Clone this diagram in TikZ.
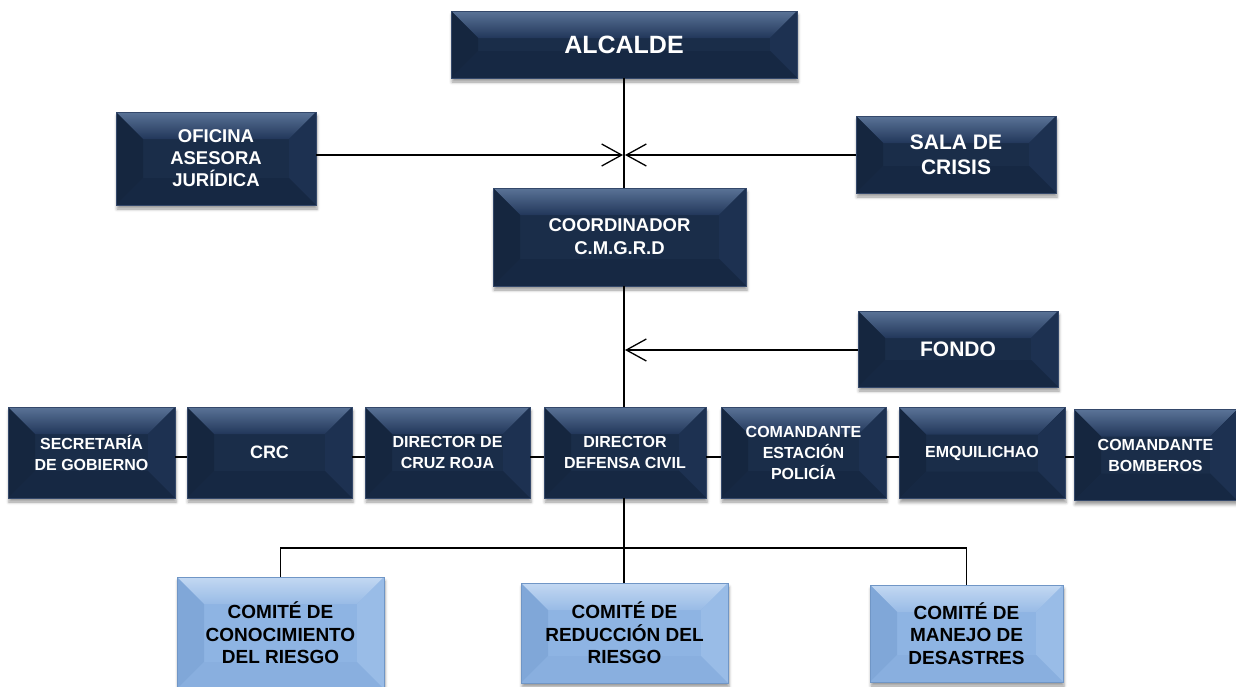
\documentclass[tikz,border=0pt]{standalone}
\usepackage{fontspec}
\setmainfont{Liberation Sans}
\usetikzlibrary{arrows.meta,shadows.blur}
\definecolor{dface}{HTML}{1A2D49}
\definecolor{dtopA}{HTML}{5A7397}
\definecolor{dtopB}{HTML}{22375A}
\definecolor{dleft}{HTML}{15263F}
\definecolor{dright}{HTML}{1D3151}
\definecolor{dbot}{HTML}{162843}
\definecolor{dedge}{HTML}{34486A}
\definecolor{lface}{HTML}{8EB4E3}
\definecolor{ltopA}{HTML}{C3D8F2}
\definecolor{ltopB}{HTML}{98BBE6}
\definecolor{lleft}{HTML}{80A7D8}
\definecolor{lright}{HTML}{99BCE7}
\definecolor{lbot}{HTML}{89AFDF}
\definecolor{ledge}{HTML}{7096C6}
\newcommand\fs[2]{\fontsize{#1}{#2}\selectfont\bfseries}
\newcommand\bevelpp[6]{%
 \path (path picture bounding box.north west) coordinate (bNW)
       (path picture bounding box.north east) coordinate (bNE)
       (path picture bounding box.south west) coordinate (bSW)
       (path picture bounding box.south east) coordinate (bSE);
 \shade[top color=#1,bottom color=#2] (bNW) -- (bNE) -- ([shift={(-#6,-#6)}]bNE) -- ([shift={(#6,-#6)}]bNW) -- cycle;
 \fill[#3] (bNW) -- ([shift={(#6,-#6)}]bNW) -- ([shift={(#6,#6)}]bSW) -- (bSW) -- cycle;
 \fill[#4] (bNE) -- ([shift={(-#6,-#6)}]bNE) -- ([shift={(-#6,#6)}]bSE) -- (bSE) -- cycle;
 \fill[#5] (bSW) -- ([shift={(#6,#6)}]bSW) -- ([shift={(-#6,#6)}]bSE) -- (bSE) -- cycle;
}
\begin{document}
\begin{tikzpicture}[x=1pt,y=-1pt,
  dk/.style={rectangle, fill=dface, draw=dedge, line width=0.6pt, text=white, align=center, inner sep=0pt,
    blur shadow={shadow xshift=1pt, shadow yshift=-4pt, shadow blur radius=3pt, shadow opacity=40},
    path picture={\bevelpp{dtopA}{dtopB}{dleft}{dright}{dbot}{27pt}}},
  lt/.style={rectangle, fill=lface, draw=ledge, line width=0.6pt, text=black, align=center, inner sep=0pt,
    blur shadow={shadow xshift=1pt, shadow yshift=-4pt, shadow blur radius=3pt, shadow opacity=40},
    path picture={\bevelpp{ltopA}{ltopB}{lleft}{lright}{lbot}{27pt}}},
  rowbox/.style={dk, minimum height=91pt, font=\fs{16}{21}},
  comite/.style={lt, minimum width=207pt, font=\fs{19}{22.5}},
  link/.style={draw=black, line width=1.3pt},
  arr/.style={link, -{Straight Barb[length=20pt,width=22pt,line width=1.3pt]}}]
\useasboundingbox (0,0) rectangle (1236,686);
% top part
\node[dk, minimum width=346pt, minimum height=67pt, font=\fs{25}{30}] (alc) at (624,44.5) {ALCALDE};
\node[dk, minimum width=200pt, minimum height=93pt, font=\fs{18.5}{22}] (ofi) at (216,158.5) {OFICINA\\ASESORA\\JURÍDICA};
\node[dk, minimum width=200pt, minimum height=77pt, font=\fs{21}{25}] (sala) at (956,154.5) {SALA DE\\CRISIS};
\node[dk, minimum width=253pt, minimum height=98pt, font=\fs{18.5}{23}] (coord) at (619.5,237) {COORDINADOR\\C.M.G.R.D};
\node[dk, minimum width=200pt, minimum height=76pt, font=\fs{21}{25}] (fondo) at (958,349) {FONDO};
% row
\node[rowbox, minimum width=167pt] (sec) at (91.5,452.5) {SECRETARÍA\\DE GOBIERNO};
\node[rowbox, minimum width=165pt, font=\fs{18}{22}] (crc) at (269.5,452.5) {CRC};
\node[rowbox, minimum width=165pt] (cruz) at (447.5,452.5) {DIRECTOR DE\\CRUZ ROJA};
\node[rowbox, minimum width=162pt] (def) at (625,452.5) {DIRECTOR\\DEFENSA CIVIL};
\node[rowbox, minimum width=165pt] (pol) at (803.5,452.5) {COMANDANTE\\ESTACIÓN\\POLICÍA};
\node[rowbox, minimum width=166pt] (emq) at (982,453) {EMQUILICHAO};
\node[rowbox, minimum width=163pt] (bom) at (1155.5,455) {COMANDANTE\\BOMBEROS};
% committees
\node[comite, minimum height=112pt] (con) at (280.5,633) {COMITÉ DE\\CONOCIMIENTO\\DEL RIESGO};
\node[comite, minimum height=100pt] (red) at (624.5,633) {COMITÉ DE\\REDUCCIÓN DEL\\RIESGO};
\node[comite, minimum width=193pt, minimum height=97pt] (man) at (966.5,633.5) {COMITÉ DE\\MANEJO DE\\DESASTRES};
% helper coordinates
\coordinate (vx) at (624,0);
\coordinate (ja) at (623,155);
\coordinate (jb) at (625,155);
\coordinate (jc) at (625,350);
\coordinate (ry) at (0,457);
\coordinate (busy) at (0,548);
% connectors
\draw[link] (alc.south -| vx) -- (coord.north -| vx);
\draw[link] (coord.south -| vx) -- (def.north -| vx);
\draw[arr] (ofi.east |- ja) -- (ja);
\draw[arr] (sala.west |- jb) -- (jb);
\draw[arr] (fondo.west |- jc) -- (jc);
\draw[link] (sec.east |- ry) -- (crc.west |- ry);
\draw[link] (crc.east |- ry) -- (cruz.west |- ry);
\draw[link] (cruz.east |- ry) -- (def.west |- ry);
\draw[link] (def.east |- ry) -- (pol.west |- ry);
\draw[link] (pol.east |- ry) -- (emq.west |- ry);
\draw[link] (emq.east |- ry) -- (bom.west |- ry);
\draw[link] (def.south -| vx) -- (red.north -| vx);
\draw[link] (con.north) |- (vx |- busy) -| (man.north);
\end{tikzpicture}
\end{document}
